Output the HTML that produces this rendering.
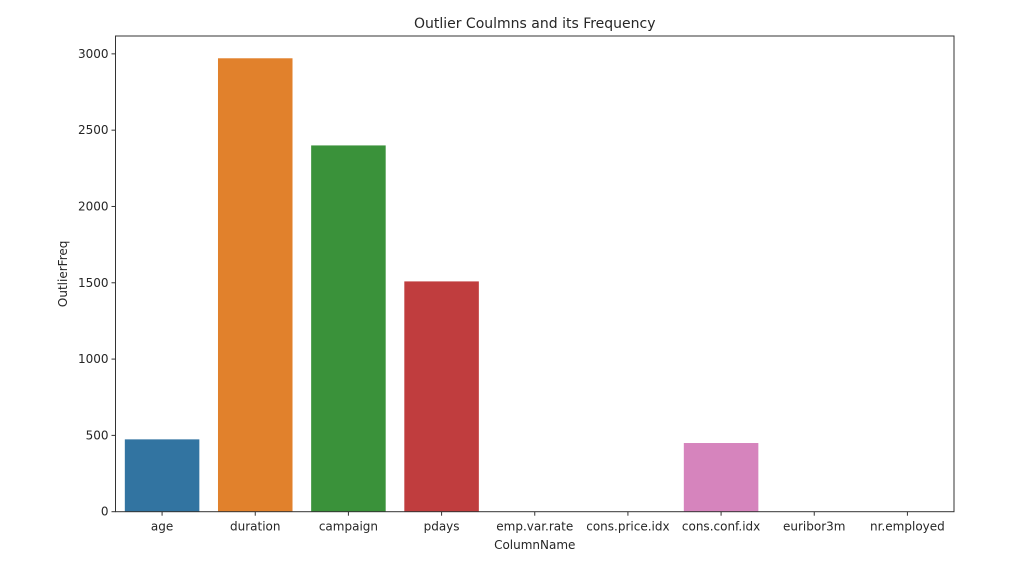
<!DOCTYPE html>
<html><head><meta charset="utf-8"><style>
body{margin:0;background:#fff;font-family:"Liberation Sans","DejaVu Sans",sans-serif;}
svg text{font-family:"DejaVu Sans","Liberation Sans",sans-serif;fill:#262626;}
</style></head><body>
<svg id="chart" width="1030" height="564" xmlns="http://www.w3.org/2000/svg"></svg>
<script>
const categories=["age","duration","campaign","pdays","emp.var.rate","cons.price.idx","cons.conf.idx","euribor3m","nr.employed"];
const values=[474,2971,2400,1509,0,0,450,0,0];
const colors=["#3274a1","#e1812c","#3a923a","#c03d3e","#9372b2","#845b53","#d684bd","#7f7f7f","#a9aa35"];
const yTicks=[0,500,1000,1500,2000,2500,3000];
const L=115.5,R=954,T=36,B=511.7,yMax=3117;
const svg=document.getElementById('chart');
const NS='http://www.w3.org/2000/svg';
function mk(t,a){const e=document.createElementNS(NS,t);for(const k in a)e.setAttribute(k,a[k]);svg.appendChild(e);return e;}
const bw=(R-L)/categories.length;
const x=i=>L+bw*i;
const y=v=>B-(v/yMax)*(B-T);
values.forEach((v,i)=>{
  const r=mk('rect',{x:x(i)+bw*0.1,y:y(v),width:bw*0.8,height:B-y(v),fill:colors[i]});
  
  
});
yTicks.forEach(t=>{
  const l=mk('line',{x1:L-4,x2:L,y1:y(t),y2:y(t),stroke:'#333'});
  
  
  const tx=mk('text',{x:L-7,y:y(t)+4,'text-anchor':'end','font-size':'12'});
  tx.textContent=t;
  
  
});
categories.forEach((c,i)=>{
  const cx=x(i)+bw/2;
  const l=mk('line',{x1:cx,x2:cx,y1:B,y2:B+4,stroke:'#333'});
  
  
  const tx=mk('text',{x:cx,y:B+19,'text-anchor':'middle','font-size':'12'});
  tx.textContent=c;
  
  
});
const fr=mk('rect',{x:L,y:T,width:R-L,height:B-T,fill:'none',stroke:'#333','stroke-width':'1'});


const ti=mk('text',{x:(L+R)/2,y:28,'text-anchor':'middle','font-size':'14'});
ti.textContent='Outlier Coulmns and its Frequency';


const xt=mk('text',{x:(L+R)/2,y:549,'text-anchor':'middle','font-size':'12'});
xt.textContent='ColumnName';


const yt=mk('text',{x:0,y:0,'text-anchor':'middle','font-size':'12',transform:'translate(67,'+((T+B)/2)+') rotate(-90)'});
yt.textContent='OutlierFreq';


</script>
</body></html>
